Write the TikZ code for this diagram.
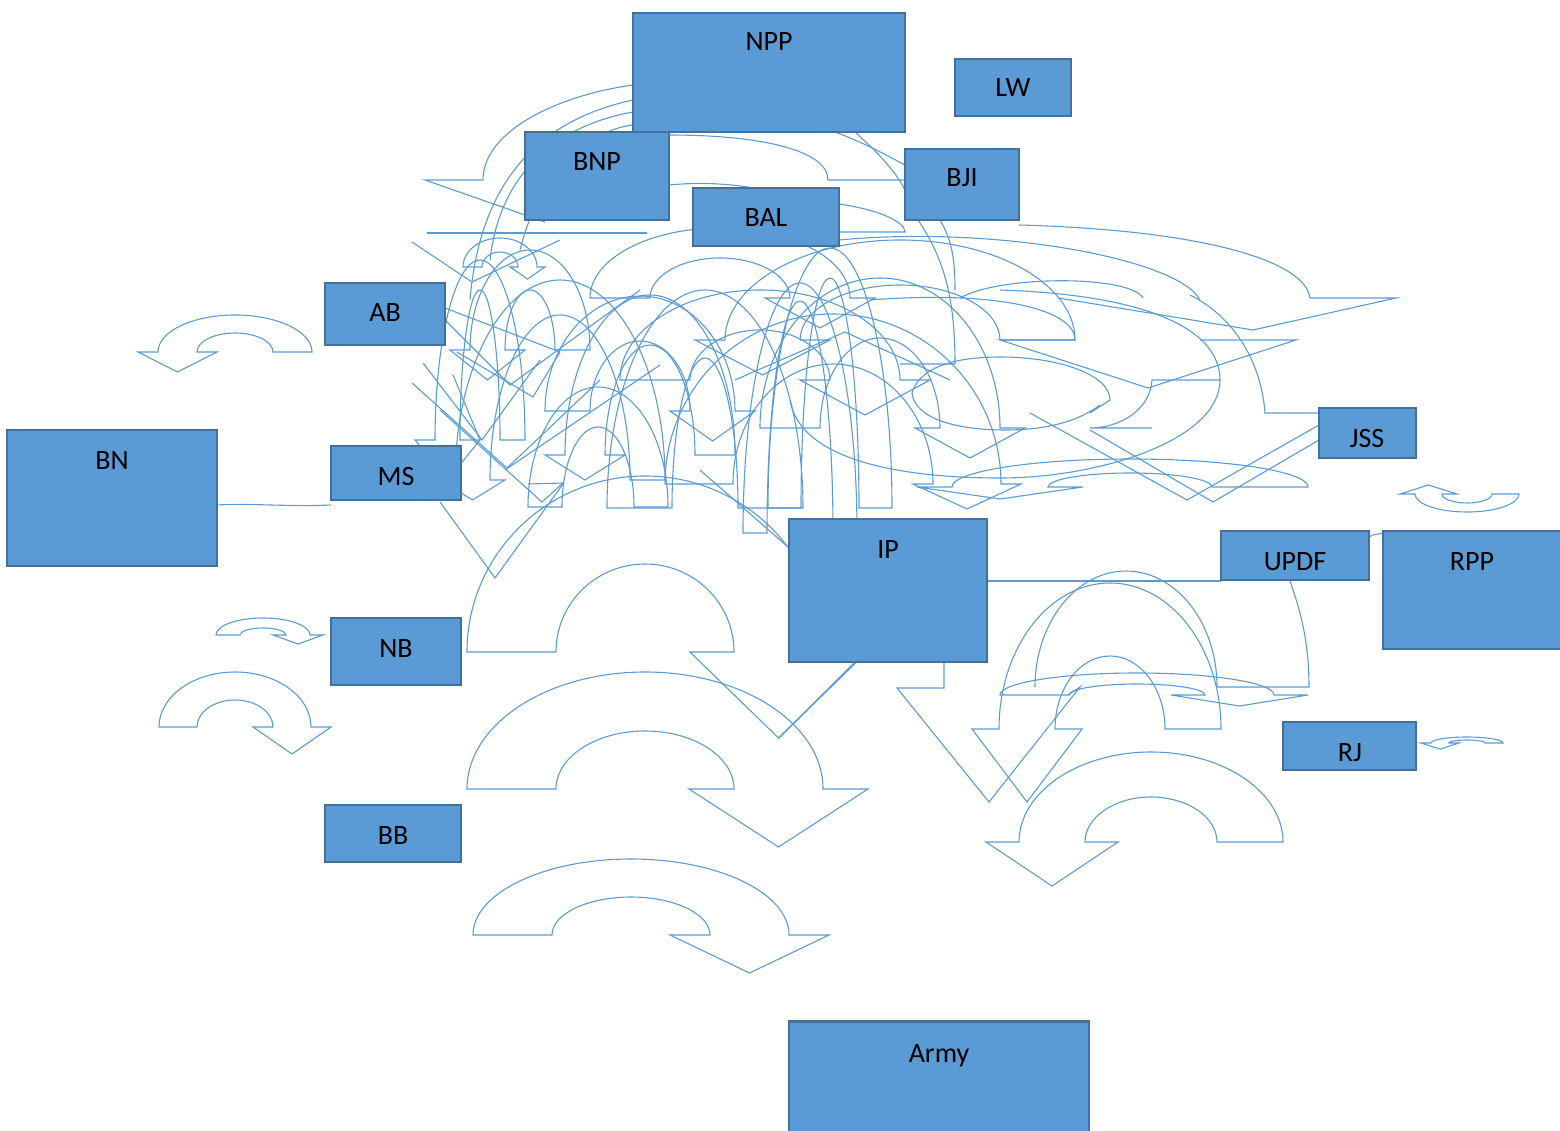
\documentclass[tikz,border=0pt]{standalone}
\usepackage{fontspec}
\setmainfont{Carlito}
\definecolor{bx}{HTML}{5B9BD5}
\definecolor{bxd}{HTML}{41719C}
\pgfdeclarelayer{bg}\pgfsetlayers{bg,main}
\tikzset{
 box/.style={draw=bxd, fill=bx, line width=2.2pt, inner sep=0pt, outer sep=0pt},
 lab/.style={font=\fontsize{28}{33}\selectfont, inner sep=0pt, anchor=base},
 arr/.style={draw=bx, line width=1.1pt, line join=miter}
}
\newcommand\cdaR[8]{\draw[arr] ({#1-#3},#2) arc[start angle=180,end angle=360,x radius=#3,y radius=#4] -- ({#1+#3+#7},#2) -- ({#1+(#3+#5)/2},{#2+#8}) -- ({#1+#5-#7},#2) -- ({#1+#5},#2) arc[start angle=360,end angle=180,x radius=#5,y radius=#6] -- cycle;}
\newcommand\cdaL[8]{\draw[arr] ({#1+#3},#2) arc[start angle=360,end angle=180,x radius=#3,y radius=#4] -- ({#1-#3-#7},#2) -- ({#1-(#3+#5)/2},{#2+#8}) -- ({#1-#5+#7},#2) -- ({#1-#5},#2) arc[start angle=180,end angle=360,x radius=#5,y radius=#6] -- cycle;}
\newcommand\cuaL[8]{\draw[arr] ({#1+#3},#2) arc[start angle=0,end angle=180,x radius=#3,y radius=#4] -- ({#1-#3-#7},#2) -- ({#1-(#3+#5)/2},{#2-#8}) -- ({#1-#5+#7},#2) -- ({#1-#5},#2) arc[start angle=180,end angle=0,x radius=#5,y radius=#6] -- cycle;}
\begin{document}
\begin{tikzpicture}[x=1pt,y=-1pt]
\useasboundingbox (0,0) rectangle (1560,1131);
% boxes
\node[box, minimum width=272pt, minimum height=119pt] (npp) at (769,72.5) {};
\node[box, minimum width=116pt, minimum height=57pt] (lw) at (1013,87.5) {};
\node[box, minimum width=144pt, minimum height=88pt] (bnp) at (597,176) {};
\node[box, minimum width=114pt, minimum height=71pt] (bji) at (962,184.5) {};
\node[box, minimum width=146pt, minimum height=58pt] (bal) at (766,217) {};
\node[box, minimum width=120pt, minimum height=62pt] (ab) at (385,314) {};
\node[box, minimum width=210pt, minimum height=136pt] (bn) at (112,498) {};
\node[box, minimum width=130pt, minimum height=54pt] (ms) at (396,473) {};
\node[box, minimum width=97pt, minimum height=50pt] (jss) at (1367.5,433) {};
\node[box, minimum width=198pt, minimum height=143pt] (ip) at (888,590.5) {};
\node[box, minimum width=148pt, minimum height=49pt] (updf) at (1295,555.5) {};
\node[box, minimum width=179pt, minimum height=118pt] (rpp) at (1472.5,590) {};
\node[box, minimum width=130pt, minimum height=67pt] (nb) at (396,651.5) {};
\node[box, minimum width=133pt, minimum height=48pt] (rj) at (1349.5,746) {};
\node[box, minimum width=136pt, minimum height=57pt] (bb) at (393,833.5) {};
\node[box, minimum width=300pt, minimum height=113pt] (army) at (939,1078) {};
% labels
\node[lab] (tnpp) at (769,51) {NPP};
\node[lab] (tlw) at (1013,97) {LW};
\node[lab] (tbnp) at (597,171) {BNP};
\node[lab] (tbji) at (962,187) {BJI};
\node[lab] (tbal) at (766,227) {BAL};
\node[lab] (tab) at (385,322) {AB};
\node[lab] (tbn) at (112,469) {BN};
\node[lab] (tms) at (396,485) {MS};
\node[lab] (tjss) at (1367,447) {JSS};
\node[lab] (tip) at (888,558) {IP};
\node[lab] (tupdf) at (1295,570) {UPDF};
\node[lab] (trpp) at (1472,570) {RPP};
\node[lab] (tnb) at (396,657) {NB};
\node[lab] (trj) at (1350,761) {RJ};
\node[lab] (tbb) at (393,844) {BB};
\node[lab] (tarmy) at (939,1062) {Army};

\begin{pgfonlayer}{bg}
% connectors between boxes
\draw[arr] ([yshift=-7pt]bn.east) .. controls (250,503) and (290,507) .. ([yshift=-32pt]ms.west);
\draw[arr] ([yshift=9.5pt]ip.east) -- ([yshift=-25.5pt]updf.west);
\draw[arr] ([yshift=18.5pt]updf.east) .. controls (1374,533) and (1378,535) .. ([yshift=57pt]rpp.west);
\draw[arr] ([yshift=8pt]jss.west) -- (1187,500) -- (1030,413);
\draw[arr] ([yshift=-7pt]jss.west) -- (1213,502) -- (1090,430);
\draw[arr] ([yshift=20pt]jss.west) -- (1265,413) .. controls (1262,370) and (1240,320) .. (1190,295);
\draw[arr] ([xshift=-21pt,yshift=-2pt]ms.south east) -- (495,578) -- (563,484);
% clear outline arrows
\cdaL{235}{352}{77}{37}{38}{19}{20}{20}
\cdaR{263}{635}{47}{17}{23}{7}{13}{9}
\cdaR{235}{727}{76}{55}{38}{27}{20}{27}
\cdaR{645}{652}{178}{176}{89}{88}{44}{86}
\cdaR{645}{789}{178}{117}{89}{58}{45}{58}
\cdaR{631}{935}{158}{76}{79}{38}{40}{38}
\cdaL{1151}{842}{132}{90}{66}{45}{33}{44}
\cdaL{1110}{729}{111}{146}{55}{73}{27}{73}
\cdaR{1137}{695}{137}{22}{68}{11}{34}{11}
\cdaL{1130}{487}{178}{28}{82}{14}{35}{12}
\cuaL{1467}{494}{52}{18}{25}{9}{15}{9}
\cdaL{1467}{743}{36}{6}{18}{3}{10}{6}
\draw[arr] (1035,687) arc[start angle=180,end angle=360,x radius=91,y radius=116] -- (1309,687) .. controls (1309,640) and (1300,610) .. (1290,581);
\draw[arr] (944,662) -- (944,688) -- (897,688) -- (989,802) -- (1080,687) -- (1068,695);
\draw[arr] (855,662) -- (779,738);
% tangle arches
\cdaR{705}{508}{98}{218}{33}{150}{0}{0}
\cdaL{800}{533}{57}{250}{33}{232}{0}{0}
\cdaR{833}{484}{168}{170}{100}{120}{20}{25}
\cdaR{830}{508}{62}{260}{29}{230}{0}{0}
\cdaL{598}{507}{70}{120}{36}{80}{0}{0}
\cdaR{640}{411}{95}{115}{50}{70}{20}{30}
\cdaR{720}{298}{130}{70}{70}{40}{25}{30}
\cdaL{900}{340}{175}{100}{100}{55}{30}{35}
\cdaR{880}{428}{120}{150}{60}{90}{25}{30}
\cdaL{560}{480}{105}{200}{70}{165}{15}{20}
\cdaR{500}{267}{37}{29}{18}{15}{8}{12}
\cdaL{530}{350}{60}{100}{25}{60}{20}{30}
\cdaL{650}{455}{85}{160}{45}{110}{20}{25}
\cdaR{760}{380}{140}{90}{70}{50}{30}{35}
\cdaL{480}{440}{45}{180}{20}{150}{20}{40}
% top-left curves and heads
\draw[arr] (633,85) .. controls (560,95) and (483,130) .. (483,180) -- (425,180) -- (545,222);
\draw[arr] (633,100) .. controls (540,120) and (480,180) .. (470,300);
\draw[arr] (633,112) .. controls (560,125) and (500,170) .. (490,260);
\draw[arr] (633,125) .. controls (590,130) and (540,170) .. (520,250);
\draw[arr] (669,135) .. controls (760,135) and (828,150) .. (828,180) -- (905,180);
\draw[arr] (835,132) .. controls (870,145) and (895,160) .. (905,165);
\draw[arr] (855,132) .. controls (875,150) and (895,170) .. (905,190);
\draw[arr] (839,204) .. controls (880,210) and (905,222) .. (905,232) -- (839,232);
\draw[arr] (669,185) .. controls (720,180) and (770,188) .. (790,200);
\draw[arr] (918,220) .. controls (945,260) and (955,300) .. (955,364) -- (900,364);
\draw[arr] (940,220) .. controls (952,240) and (955,260) .. (955,290);
\draw[arr] (427,233) -- (647,233);
\draw[arr] (412,242) -- (472,282) -- (560,240);
\draw[arr] (412,383) -- (507,468) -- (600,380);
\draw[arr] (440,410) -- (542,502) -- (563,483) -- (528,484);
\draw[arr] (457,352) -- (533,397) -- (560,352);
\draw[arr] (423,363) -- (482,440) -- (540,360);
\draw[arr] (445,308) -- (560,352);
\draw[arr] (445,320) -- (510,385) -- (640,290);
\draw[arr] (453,375) -- (480,440);
\draw[arr] (505,470) -- (660,365);
\draw[arr] (700,470) -- (788,547);
\draw[arr] (735,380) -- (845,332) -- (950,380);
% right-middle curves
\draw[arr] (1019,225) .. controls (1200,230) and (1305,260) .. (1310,298) -- (1396,298) -- (1253,330) -- (1058,298);
\draw[arr] (839,240) .. controls (1000,225) and (1180,260) .. (1200,300);
\draw[arr] (960,298) .. controls (1000,275) and (1130,275) .. (1143,298);
\draw[arr] (1200,340) -- (1296,340) -- (1148,388) -- (1000,340) -- (1075,340) .. controls (1075,310) and (1000,290) .. (870,300);
\draw[arr] (790,400) .. controls (800,460) and (900,478) .. (1000,478) .. controls (1100,478) and (1220,440) .. (1220,380) -- (1152,380) .. controls (1150,410) and (1120,428) .. (1090,428) -- (1152,428);
\draw[arr] (912,393) .. controls (920,365) and (960,357) .. (1000,357) .. controls (1060,357) and (1110,375) .. (1110,400) -- (1090,413);
\draw[arr] (912,393) .. controls (915,420) and (960,430) .. (1005,430) .. controls (1050,430) and (1080,420) .. (1100,405);
\draw[arr] (1220,380) .. controls (1220,330) and (1150,295) .. (1000,290);
\end{pgfonlayer}
\end{tikzpicture}
\end{document}
